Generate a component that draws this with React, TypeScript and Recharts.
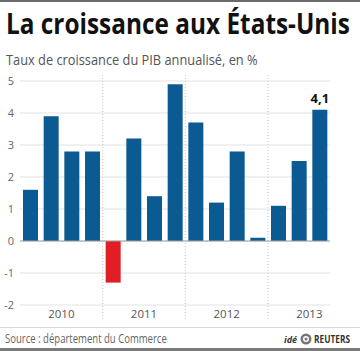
import React, { useLayoutEffect, useRef, useState } from 'react';
import {
  BarChart, Bar, XAxis, YAxis, CartesianGrid, ReferenceLine, LabelList, Cell
} from 'recharts';

const QUARTERS = [
  'T1 2010', 'T2 2010', 'T3 2010', 'T4 2010',
  'T1 2011', 'T2 2011', 'T3 2011', 'T4 2011',
  'T1 2012', 'T2 2012', 'T3 2012', 'T4 2012',
  'T1 2013', 'T2 2013', 'T3 2013',
];
const GROWTH = [1.6, 3.9, 2.8, 2.8, -1.3, 3.2, 1.4, 4.9, 3.7, 1.2, 2.8, 0.1, 1.1, 2.5, 4.1];
const Y_TICKS = [-2, -1, 0, 1, 2, 3, 4, 5];

const data = QUARTERS.map((q, i) => ({ quarter: q, value: GROWTH[i] }));

const W = 360;
const H = 351;
const MARGIN = { top: 81, right: 30, bottom: 26, left: 0 };
const Y_AXIS_W = 20;
const X_AXIS_H = 20;
const PLOT_H = H - MARGIN.top - MARGIN.bottom - X_AXIS_H;
const BAND = (W - MARGIN.left - MARGIN.right - Y_AXIS_W) / QUARTERS.length;

const BLUE = '#0b5a92';
const RED = '#e11d25';
const FONT = '"Open Sans", "Noto Sans", sans-serif';

// text squeezed horizontally to a given width (the original uses a condensed face)
const FitText = ({ x, y, width, children, ...rest }: any) => {
  const ref = useRef<SVGTextElement>(null);
  const [sx, setSx] = useState(1);
  useLayoutEffect(() => {
    if (ref.current) {
      const natural = ref.current.getComputedTextLength();
      if (natural > 0) setSx(width / natural);
    }
  }, [width]);
  return (
    <g transform={`translate(${x},${y}) scale(${sx},1)`}>
      <text ref={ref} x={0} y={0} {...rest}>{children}</text>
    </g>
  );
};

const YearTick = (props: any) => {
  const { x, y, payload } = props;
  const off = payload && payload.offset ? payload.offset : BAND / 2;
  const idx = payload.index;
  const [q, year] = String(payload.value).split(' ');
  return (
    <g>
      {q === 'T1' && idx > 0 && (
        <line x1={x - off} x2={x - off} y1={y - PLOT_H - 6} y2={y + 14}
          stroke="#c8c8c8" strokeDasharray="1 2" />
      )}
      {q === 'T2' && (
        <text x={x + off} y={y + 13} textAnchor="middle" fontSize={11.5}
          fontFamily={FONT} fill="#555">{year}</text>
      )}
    </g>
  );
};

const ValueTick = (props: any) => {
  const { y, payload } = props;
  return (
    <text x={14} y={y + 4} textAnchor="end" fontSize={11} fontFamily={FONT} fill="#666">
      {payload.value}
    </text>
  );
};

const LastLabel = (props: any) => {
  const { x, y, width, value, index } = props;
  if (index !== GROWTH.length - 1) return null;
  return (
    <text x={x + width / 2} y={y - 7} textAnchor="middle" fontSize={13}
      fontWeight="bold" fontFamily={FONT} fill="#111">
      {String(value).replace('.', ',')}
    </text>
  );
};

export default function App() {
  return (
    <div style={{ position: 'absolute', left: 0, top: 0, width: W, height: H, background: '#fff' }}>
      <svg width={W} height={H} style={{ position: 'absolute', left: 0, top: 0 }}>
        <rect x={0} y={0} width={W} height={2} fill="#6a6a6a" />
        <FitText x={6} y={34} width={344} fontSize={28} fontWeight="bold" fontFamily={FONT} fill="#111">
          La croissance aux États-Unis
        </FitText>
        <FitText x={6} y={65} width={252} fontSize={14} fontFamily={FONT} fill="#555">
          Taux de croissance du PIB annualisé, en %
        </FitText>
        <rect x={0} y={327} width={W} height={1} fill="#d8d8d8" />
        <FitText x={5} y={343} width={162} fontSize={12.5} fontFamily={FONT} fill="#666">
          Source : département du Commerce
        </FitText>
        <text x={284} y={343} fontSize={9} fontStyle="italic" fontWeight="bold"
          fontFamily={FONT} fill="#333">idé</text>
        <circle cx={306} cy={339} r={5.5} fill="#777" />
        <circle cx={306} cy={339} r={3} fill="#fff" />
        <circle cx={306} cy={339} r={1.5} fill="#777" />
        <FitText x={314} y={343} width={36} fontSize={10.5} fontWeight="bold" fontFamily={FONT} fill="#333">
          REUTERS
        </FitText>
        <rect x={0} y={348} width={W} height={3} fill="#7a7a7a" />
      </svg>
      <div style={{ position: 'absolute', left: 0, top: 0 }}>
        <BarChart width={W} height={H} data={data} margin={MARGIN} barSize={15}>
          <CartesianGrid vertical={false} stroke="#e2e2e2" />
          <XAxis dataKey="quarter" height={X_AXIS_H} axisLine={false} tickLine={false}
            tickSize={0} tickMargin={0} interval={0} tick={<YearTick />} />
          <YAxis width={Y_AXIS_W} domain={[-2, 5]} ticks={Y_TICKS} axisLine={false}
            tickLine={false} tick={<ValueTick />} />
          <ReferenceLine y={0} stroke="#9e9e9e" />
          <Bar dataKey="value" isAnimationActive={false}>
            {data.map((d, i) => (
              <Cell key={`c-${i}`} fill={d.value < 0 ? RED : BLUE} />
            ))}
            <LabelList dataKey="value" content={<LastLabel />} />
          </Bar>
        </BarChart>
      </div>
    </div>
  );
}
